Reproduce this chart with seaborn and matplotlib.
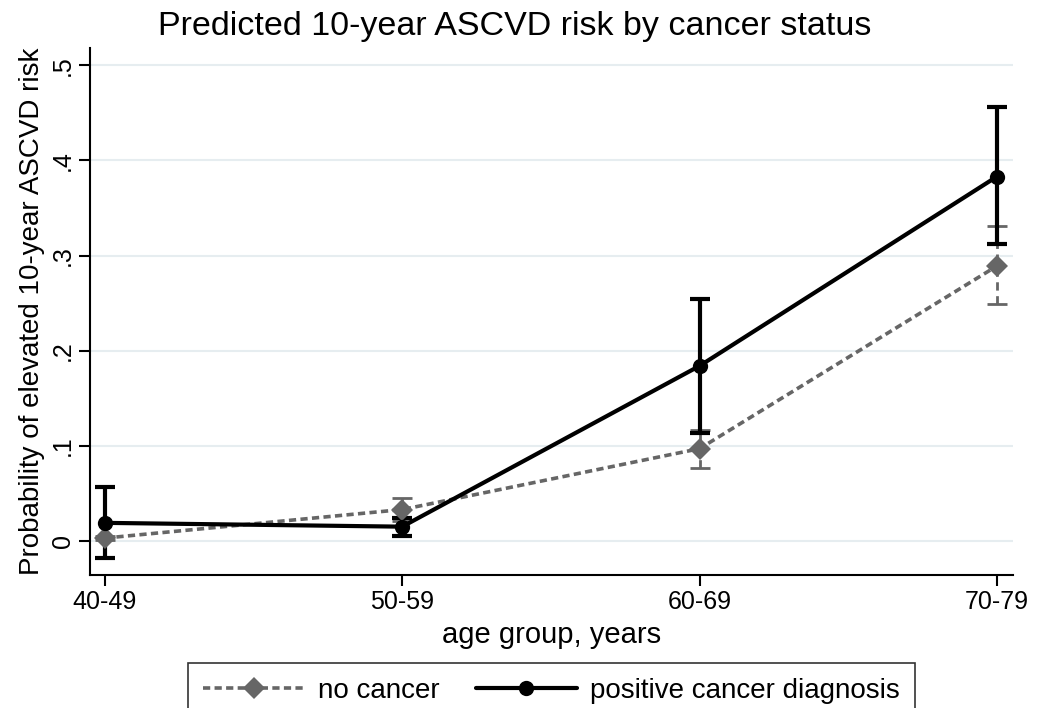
import matplotlib
matplotlib.use("Agg")
import matplotlib.pyplot as plt
import pandas as pd
import seaborn as sns

age_groups = ["40-49", "50-59", "60-69", "70-79"]
groups = ["no cancer", "positive cancer diagnosis"]

no_cancer = [0.003, 0.033, 0.097, 0.289]
no_cancer_lo = [0.001, 0.021, 0.077, 0.249]
no_cancer_hi = [0.005, 0.045, 0.117, 0.331]

cancer = [0.019, 0.015, 0.184, 0.383]
cancer_lo = [-0.018, 0.005, 0.113, 0.312]
cancer_hi = [0.057, 0.024, 0.254, 0.456]

sns.set_style("white")
plt.rcParams["font.family"] = ["Liberation Sans", "DejaVu Sans"]
plt.rcParams["text.color"] = "black"
plt.rcParams["axes.labelcolor"] = "black"
plt.rcParams["xtick.color"] = "black"
plt.rcParams["ytick.color"] = "black"

df = pd.DataFrame({
    "x": list(range(len(age_groups))) * 2,
    "risk": no_cancer + cancer,
    "group": [groups[0]] * 4 + [groups[1]] * 4,
})

fig = plt.figure(figsize=(10.47, 7.08), dpi=100)
ax = fig.add_axes([0.086, 0.188, 0.8815, 0.744])

colors = {groups[0]: "#666666", groups[1]: "#000000"}

# confidence intervals
eb = ax.errorbar(range(4), no_cancer,
                 yerr=[[m - l for m, l in zip(no_cancer, no_cancer_lo)],
                       [h - m for m, h in zip(no_cancer, no_cancer_hi)]],
                 fmt="none", ecolor="#666666", elinewidth=2, capsize=7, capthick=2,
                 zorder=2)
eb.lines[2][0].set_linestyle((0, (3, 2)))
ax.errorbar(range(4), cancer,
            yerr=[[m - l for m, l in zip(cancer, cancer_lo)],
                  [h - m for m, h in zip(cancer, cancer_hi)]],
            fmt="none", ecolor="black", elinewidth=3, capsize=7, capthick=3,
            zorder=3)

sns.lineplot(data=df, x="x", y="risk", hue="group", style="group",
             palette=colors, markers={groups[0]: "D", groups[1]: "o"},
             dashes={groups[0]: (2, 1.2), groups[1]: ""},
             markersize=11, markeredgewidth=0, ax=ax, legend=False,
             zorder=4)
ax.lines[-2].set_linewidth(2.6)
ax.lines[-1].set_linewidth(3)

ax.set_xlim(-0.05, 3.054)
ax.set_ylim(-0.0357, 0.518)
ax.set_xticks(range(4))
ax.set_xticklabels(age_groups, fontsize=18)
yt = [0, 0.1, 0.2, 0.3, 0.4, 0.5]
ax.set_yticks(yt)
ax.set_yticklabels(["0", ".1", ".2", ".3", ".4", ".5"], fontsize=18, rotation=90, va="center")
for y in yt:
    ax.axhline(y, color="#e6edf0", linewidth=1.5, zorder=0)

ax.spines["top"].set_visible(False)
ax.spines["right"].set_visible(False)
for s in ["left", "bottom"]:
    ax.spines[s].set_linewidth(1.5)
    ax.spines[s].set_color("black")
ax.tick_params(axis="both", which="both", direction="out", length=8, width=1.5,
               left=True, bottom=True, pad=3)

ax.set_xlabel("age group, years", fontsize=21, labelpad=5)
ax.set_ylabel("Probability of elevated 10-year ASCVD risk", fontsize=20, labelpad=4)
fig.suptitle("Predicted 10-year ASCVD risk by cancer status", fontsize=24.5,
             x=0.492, y=0.985)

h1 = plt.Line2D([], [], color="#666666", linestyle=(0, (2, 1.2)), linewidth=2.6,
                marker="D", markersize=11, markeredgewidth=0)
h2 = plt.Line2D([], [], color="black", linewidth=3, marker="o", markersize=11,
                markeredgewidth=0)
leg = ax.legend([h1, h2], groups, loc="upper center", bbox_to_anchor=(0.5, -0.167),
                ncol=2, fontsize=20, frameon=True, fancybox=False, handlelength=3.65,
                handletextpad=0.47, columnspacing=1.3, borderpad=0.55,
                borderaxespad=0)
leg.get_frame().set_edgecolor("black")
leg.get_frame().set_linewidth(1.2)

fig.savefig("out.png", dpi=100)
